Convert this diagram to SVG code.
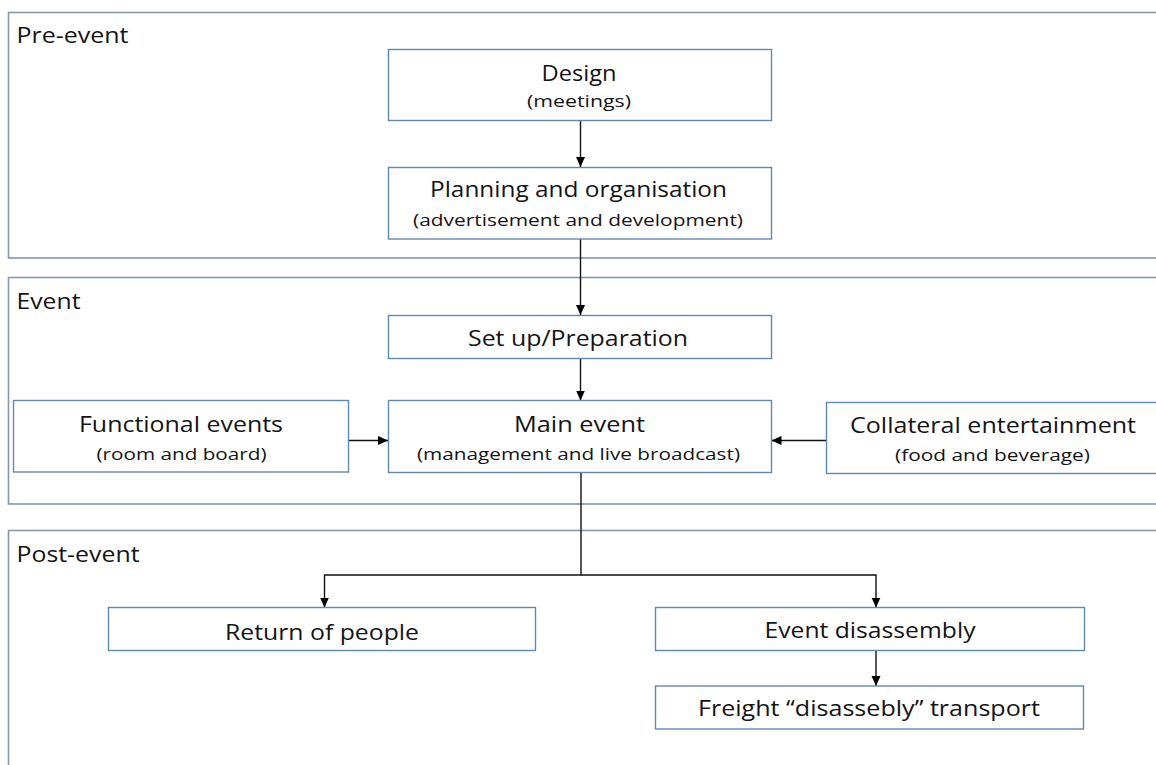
<svg xmlns="http://www.w3.org/2000/svg" width="1156" height="765" viewBox="0 0 1156 765">
<defs>
<style>
.sec{fill:#fff;stroke:#8497ab;stroke-width:1.6}
.box{fill:#fff;stroke:#5f88b5;stroke-width:1.4}
.t{font-family:"Open Sans","Liberation Sans",sans-serif;fill:#141414;text-anchor:middle}
.lbl{font-family:"Open Sans","Liberation Sans",sans-serif;fill:#141414;font-size:21px}
.h{font-size:21px}
.s{font-size:16.5px}
.c{fill:none;stroke:#111;stroke-width:1.4}
</style>
<marker id="ah" viewBox="0 0 10 10" refX="10" refY="5" markerWidth="10" markerHeight="10" markerUnits="userSpaceOnUse" orient="auto">
<path d="M0,0.5 L10,5 L0,9.5 Z" fill="#000"/>
</marker>
</defs>
<rect width="1156" height="765" fill="#fff"/>
<g id="sections">
<g id="pre-event"><rect class="sec" x="8.5" y="12.5" width="1160" height="245.5"/><text class="lbl" x="16.5" y="43" textLength="112" lengthAdjust="spacingAndGlyphs">Pre-event</text></g>
<g id="event"><rect class="sec" x="8.5" y="277.5" width="1160" height="226.5"/><text class="lbl" x="16.5" y="309" textLength="64" lengthAdjust="spacingAndGlyphs">Event</text></g>
<g id="post-event"><rect class="sec" x="8.5" y="530.5" width="1160" height="260"/><text class="lbl" x="16.5" y="561.5" textLength="123" lengthAdjust="spacingAndGlyphs">Post-event</text></g>
</g>
<g id="connectors">
<path class="c" d="M580.5,121 V167" marker-end="url(#ah)"/>
<path class="c" d="M580.5,239 V315" marker-end="url(#ah)"/>
<path class="c" d="M580.5,358.5 V400.5" marker-end="url(#ah)"/>
<path class="c" d="M346,440.5 H388" marker-end="url(#ah)"/>
<path class="c" d="M826,440.5 H771.5" marker-end="url(#ah)"/>
<path class="c" d="M581,472.5 V575 H324.5 V607.5" marker-end="url(#ah)"/>
<path class="c" d="M581,575 H876 V607.5" marker-end="url(#ah)"/>
<path class="c" d="M876,651 V686" marker-end="url(#ah)"/>
</g>
<g id="design"><rect class="box" x="388.5" y="49.5" width="383" height="71"/><text class="t h" x="579" y="80.5" textLength="75" lengthAdjust="spacingAndGlyphs">Design</text><text class="t s" x="579" y="107" textLength="104" lengthAdjust="spacingAndGlyphs">(meetings)</text></g>
<g id="planning"><rect class="box" x="388.5" y="167.5" width="383" height="71.5"/><text class="t h" x="578.5" y="197" textLength="297" lengthAdjust="spacingAndGlyphs">Planning and organisation</text><text class="t s" x="578" y="226" textLength="330" lengthAdjust="spacingAndGlyphs">(advertisement and development)</text></g>
<g id="setup"><rect class="box" x="388.5" y="315.5" width="383" height="43"/><text class="t h" x="578" y="345.5" textLength="220" lengthAdjust="spacingAndGlyphs">Set up/Preparation</text></g>
<g id="main-event"><rect class="box" x="388.5" y="400.5" width="383" height="72"/><text class="t h" x="579.5" y="431.5" textLength="131" lengthAdjust="spacingAndGlyphs">Main event</text><text class="t s" x="578.5" y="460" textLength="323" lengthAdjust="spacingAndGlyphs">(management and live broadcast)</text></g>
<g id="functional"><rect class="box" x="13.5" y="400.5" width="335" height="71.5"/><text class="t h" x="181" y="431.5" textLength="204" lengthAdjust="spacingAndGlyphs">Functional events</text><text class="t s" x="181.5" y="460" textLength="170" lengthAdjust="spacingAndGlyphs">(room and board)</text></g>
<g id="collateral"><rect class="box" x="826.5" y="402.5" width="340" height="71"/><text class="t h" x="993" y="433" textLength="286" lengthAdjust="spacingAndGlyphs">Collateral entertainment</text><text class="t s" x="992.5" y="461" textLength="195" lengthAdjust="spacingAndGlyphs">(food and beverage)</text></g>
<g id="return"><rect class="box" x="108.5" y="607.5" width="427" height="43"/><text class="t h" x="322" y="639.5" textLength="194" lengthAdjust="spacingAndGlyphs">Return of people</text></g>
<g id="disassembly"><rect class="box" x="655.5" y="607.5" width="429" height="43"/><text class="t h" x="870" y="637.5" textLength="211" lengthAdjust="spacingAndGlyphs">Event disassembly</text></g>
<g id="freight"><rect class="box" x="655.5" y="686" width="428" height="43"/><text class="t h" x="869" y="716" textLength="342" lengthAdjust="spacingAndGlyphs">Freight “disassebly” transport</text></g>
</svg>
